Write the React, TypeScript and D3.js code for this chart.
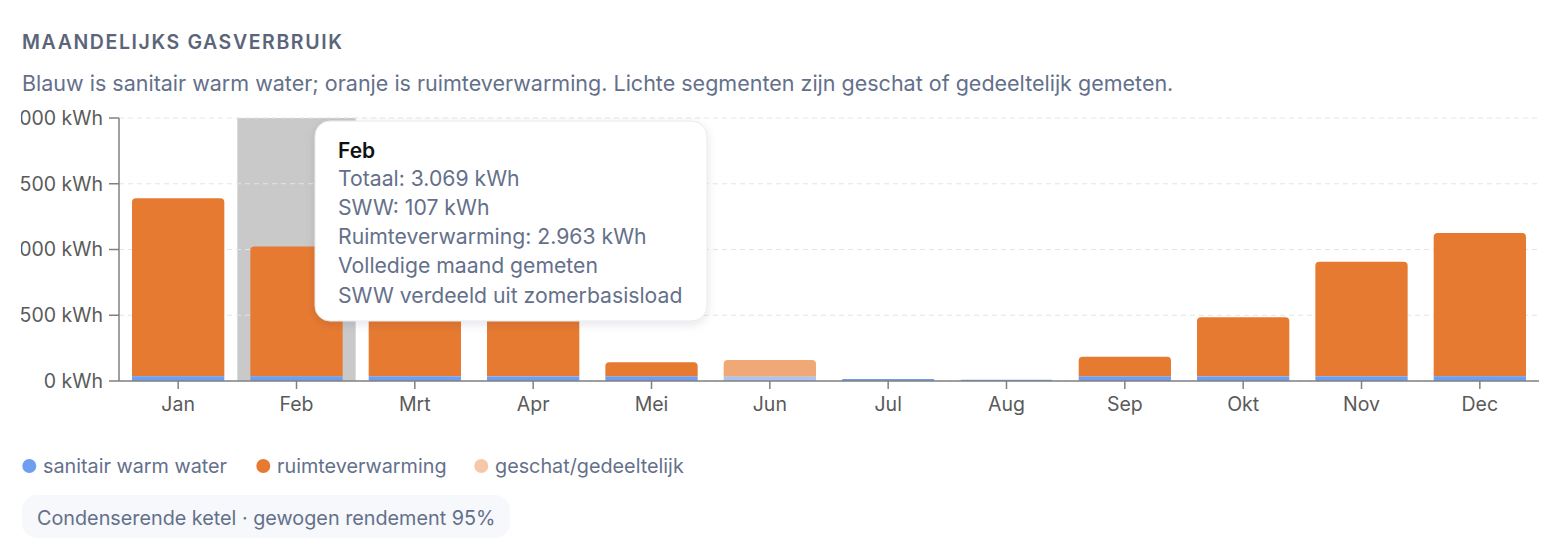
import React from "react";
import * as d3 from "d3";

const months = ["Jan", "Feb", "Mrt", "Apr", "Mei", "Jun", "Jul", "Aug", "Sep", "Okt", "Nov", "Dec"];
// sanitair warm water per maand (kWh)
const swwValues = [110, 106.6, 108, 106, 104, 98, 48, 30, 104, 106, 107, 110];
// ruimteverwarming per maand (kWh)
const heatingValues = [4058, 2962.6, 2542, 1644, 323, 381, 0, 0, 451, 1347, 2615, 3266];
// geschat of gedeeltelijk gemeten
const estimated = [false, false, false, false, false, true, false, false, false, false, false, false];
const yTicks = [0, 1500, 3000, 4500, 6000];

const tooltipMonth = "Feb";
const tooltipNotes = ["Volledige maand gemeten", "SWW verdeeld uit zomerbasisload"];

const legendItems = [
  { label: "sanitair warm water", color: "#6e9ef0" },
  { label: "ruimteverwarming", color: "#e67a31" },
  { label: "geschat/gedeeltelijk", color: "#f6c8a8" },
];
const legendX = [22, 256, 474];

const FONT = "Inter, 'Noto Sans', sans-serif";
const TEXT = "#64708a";
const AXIS = "#5a5a5a";

const nl = d3.formatLocale({ decimal: ",", thousands: ".", grouping: [3], currency: ["€", ""] });
const fmt = nl.format(",.0f");

const W = 1552;
const H = 546;
const plot = { left: 119, right: 1539, top: 118, bottom: 381 };

function topRounded(x: number, y: number, w: number, h: number, r: number) {
  const rr = Math.min(r, h, w / 2);
  return `M${x},${y + h}V${y + rr}Q${x},${y} ${x + rr},${y}H${x + w - rr}Q${x + w},${y} ${x + w},${y + rr}V${y + h}Z`;
}

export default function App() {
  const x = d3.scaleBand<string>().domain(months).range([plot.left, plot.right]).paddingInner(0.22).paddingOuter(0.11);
  const y = d3.scaleLinear().domain([0, 6000]).range([plot.bottom, plot.top]);
  const bw = x.bandwidth();
  const step = x.step();

  const fi = months.indexOf(tooltipMonth);
  const fCenter = (x(tooltipMonth) ?? 0) + bw / 2;
  const fSww = swwValues[fi];
  const fHeat = heatingValues[fi];

  const tip = { x: 315, y: 121, w: 392, h: 200 };

  return (
    <div style={{ position: "fixed", inset: 0, background: "#fff" }}>
      <svg width={W} height={H} style={{ display: "block", fontFamily: FONT }}>
        <defs>
          <clipPath id="card">
            <rect x={21} y={0} width={W - 21} height={H} />
          </clipPath>
          <filter id="shadow" x="-10%" y="-10%" width="120%" height="130%">
            <feDropShadow dx={0} dy={3} stdDeviation={5} floodColor="#0f172a" floodOpacity={0.1} />
          </filter>
        </defs>

        <text x={22} y={49} fontSize={19.5} fontWeight={600} letterSpacing={1.6} fill="#5b657a">
          MAANDELIJKS GASVERBRUIK
        </text>
        <text x={22} y={91} fontSize={21.5} fill={TEXT}>
          Blauw is sanitair warm water; oranje is ruimteverwarming. Lichte segmenten zijn geschat of gedeeltelijk gemeten.
        </text>

        <g clipPath="url(#card)">
          {/* hover-markering */}
          <rect x={fCenter - step / 2} y={plot.top} width={step} height={plot.bottom - plot.top} fill="#c9c9c9" />

          {/* rasterlijnen */}
          {yTicks.map((t) => (
            <line key={t} x1={plot.left} x2={plot.right} y1={y(t)} y2={y(t)} stroke="#e4e4e4" strokeDasharray="5 4" />
          ))}

          {/* gestapelde balken */}
          {months.map((m, i) => {
            const x0 = x(m) ?? 0;
            const sww = swwValues[i];
            const heat = heatingValues[i];
            const yS = y(sww);
            const yT = y(sww + heat);
            const blue = estimated[i] ? "#a9c5f4" : "#6e9ef0";
            const orange = estimated[i] ? "#f0a877" : "#e67a31";
            return (
              <g key={m}>
                {heat > 0 ? (
                  <>
                    <path d={topRounded(x0, yT, bw, yS - yT, 4)} fill={orange} />
                    <rect x={x0} y={yS} width={bw} height={plot.bottom - yS} fill={blue} />
                  </>
                ) : (
                  <path d={topRounded(x0, yS, bw, plot.bottom - yS, 1)} fill={blue} />
                )}
              </g>
            );
          })}

          {/* y-as */}
          <line x1={plot.left} x2={plot.left} y1={plot.top} y2={plot.bottom} stroke="#808080" strokeWidth={1.5} />
          {yTicks.map((t) => (
            <g key={t}>
              <line x1={plot.left - 10} x2={plot.left} y1={y(t)} y2={y(t)} stroke="#808080" strokeWidth={1.5} />
              <text x={plot.left - 16} y={y(t)} dy="0.35em" textAnchor="end" fontSize={19.5} fill={AXIS}>
                {fmt(t)} kWh
              </text>
            </g>
          ))}

          {/* x-as */}
          <line x1={plot.left} x2={plot.right} y1={plot.bottom} y2={plot.bottom} stroke="#808080" strokeWidth={1.5} />
          {months.map((m) => {
            const cx = (x(m) ?? 0) + bw / 2;
            return (
              <g key={m}>
                <line x1={cx} x2={cx} y1={plot.bottom} y2={plot.bottom + 8} stroke="#808080" strokeWidth={1.5} />
                <text x={cx} y={plot.bottom + 30} textAnchor="middle" fontSize={19.5} fill={AXIS}>
                  {m}
                </text>
              </g>
            );
          })}
        </g>

        {/* tooltip */}
        <g>
          <rect x={tip.x} y={tip.y} width={tip.w} height={tip.h} rx={15} fill="#fff" stroke="#e6e8ec" filter="url(#shadow)" />
          <text x={338} y={157.5} fontSize={21} fontWeight={600} fill="#111">
            {tooltipMonth}
          </text>
          {[
            `Totaal: ${fmt(fSww + fHeat)} kWh`,
            `SWW: ${fmt(fSww)} kWh`,
            `Ruimteverwarming: ${fmt(fHeat)} kWh`,
            ...tooltipNotes,
          ].map((line, i) => (
            <text key={i} x={338} y={185.5 + i * 29.3} fontSize={21.2} fill={TEXT}>
              {line}
            </text>
          ))}
        </g>

        {/* legenda */}
        {legendItems.map((d, i) => {
          const lx = legendX[i];
          return (
            <g key={d.label}>
              <circle cx={lx + 7.3} cy={466} r={7} fill={d.color} />
              <text x={lx + 21} y={473} fontSize={19.8} fill={TEXT}>
                {d.label}
              </text>
            </g>
          );
        })}

        <rect x={22} y={495} width={488} height={43} rx={15} fill="#f6f8fb" />
        <text x={37} y={524.5} fontSize={19.8} fill={TEXT}>
          Condenserende ketel · gewogen rendement 95%
        </text>
      </svg>
    </div>
  );
}
